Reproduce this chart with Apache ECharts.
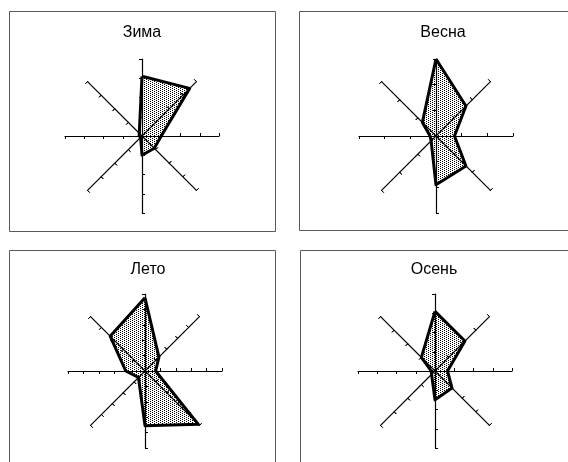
<html>
<head>
    <meta http-equiv="Content-Type" content="text/html; charset=utf-8" />
</head>
<script type="text/javascript" src="https://cdn.jsdelivr.net/npm/echarts@6/dist/echarts.min.js"></script>
<body style="margin:0">
<div id="main" style="width: 568px;height:462px;"></div>
</body>
<script type="text/javascript">
    // направления по часовой стрелке, начиная с севера
    var directions = ['С', 'СВ', 'В', 'ЮВ', 'Ю', 'ЮЗ', 'З', 'СЗ'];
    var seasons = ['Зима', 'Весна', 'Лето', 'Осень'];
    var zima  = [3.1, 3.5, 1.0, 0.9, 1.0, 0.1, 0.15, 0.2];
    var vesna = [3.0, 1.65, 0.72, 1.65, 1.9, 0.27, 0.23, 0.75];
    var leto  = [4.75, 1.28, 0.69, 4.9, 3.55, 0.6, 1.25, 3.2];
    var osen  = [3.1, 2.2, 0.65, 1.25, 1.5, 0.25, 0.2, 1.0];
    // максимум шкалы (число делений) для каждого сезона
    var axisMax = [4, 3, 5, 4];

    var values = [zima, vesna, leto, osen];
    var centers = [[142, 136], [436, 136], [145, 371], [435, 371]];
    var titlePos = [[142, 33], [443, 33], [148, 270], [434, 270]];
    var boxes = [[9, 11, 266, 220], [299, 11, 280, 219], [9, 250, 266, 220], [300, 250, 280, 220]];

    // точечная заливка
    var dots = document.createElement('canvas');
    dots.width = 4;
    dots.height = 2;
    var ctx = dots.getContext('2d');
    ctx.fillStyle = '#000';
    ctx.fillRect(0, 0, 1, 1);
    ctx.fillRect(2, 1, 1, 1);

    // echarts рисует оси радара против часовой стрелки
    function ccw(arr) {
        var res = [arr[0]];
        for (var i = arr.length - 1; i > 0; i--) res.push(arr[i]);
        return res;
    }

    function makeRadar(k, inside) {
        return {
            center: centers[k],
            radius: 77,
            startAngle: 90,
            splitNumber: axisMax[k],
            shape: 'polygon',
            indicator: ccw(directions).map(function (d) { return {name: d, max: axisMax[k], min: 0}; }),
            axisName: {show: false},
            axisLine: {show: !inside, lineStyle: {color: '#000', width: 1.2}},
            axisTick: {show: true, inside: inside, length: 3, lineStyle: {color: '#000'}},
            axisLabel: {show: false},
            splitLine: {show: false},
            splitArea: {show: false}
        };
    }

    var radars = [], series = [], graphics = [];
    for (var k = 0; k < 4; k++) {
        radars.push(makeRadar(k, false));
        series.push({
            type: 'radar',
            radarIndex: k,
            name: seasons[k],
            symbol: 'none',
            silent: true,
            lineStyle: {color: '#000', width: 3},
            areaStyle: {color: {image: dots, repeat: 'repeat'}, opacity: 1},
            data: [{value: ccw(values[k]), name: seasons[k]}]
        });
        graphics.push({
            type: 'rect',
            shape: {x: boxes[k][0] + 0.5, y: boxes[k][1] + 0.5, width: boxes[k][2], height: boxes[k][3]},
            style: {fill: '#fff', stroke: '#595959', lineWidth: 1},
            z: -10
        });
        graphics.push({
            type: 'text',
            x: titlePos[k][0],
            y: titlePos[k][1],
            style: {
                text: seasons[k],
                font: '16px "Liberation Sans", Arial, sans-serif',
                fill: '#000',
                align: 'center',
                verticalAlign: 'middle'
            }
        });
    }
    // вторые радары — засечки внутрь, чтобы они пересекали оси
    for (var k = 0; k < 4; k++) {
        radars.push(makeRadar(k, true));
    }

    var myChart = echarts.init(document.getElementById('main'));
    option = {
        backgroundColor: '#fff',
        animation: false,
        graphic: graphics,
        radar: radars,
        series: series
    };
    myChart.setOption(option);
</script>
</html>
